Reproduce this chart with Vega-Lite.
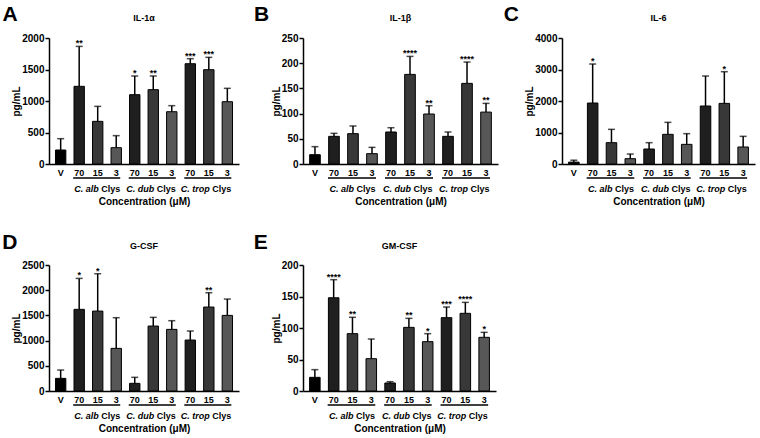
{
  "$schema": "https://vega.github.io/schema/vega-lite/v6.json",
  "padding": {"left": 2, "top": 3, "right": 1, "bottom": 2},
  "datasets": {
    "cyto": [
      {"panel":"A","cat":"V","dose":"V","mean":222,"upper":402,"sig":""},
      {"panel":"A","cat":"alb 70","dose":"70","mean":1233,"upper":1867,"sig":"**"},
      {"panel":"A","cat":"alb 15","dose":"15","mean":677,"upper":915,"sig":""},
      {"panel":"A","cat":"alb 3","dose":"3","mean":259,"upper":450,"sig":""},
      {"panel":"A","cat":"dub 70","dose":"70","mean":1100,"upper":1397,"sig":"*"},
      {"panel":"A","cat":"dub 15","dose":"15","mean":1180,"upper":1397,"sig":"**"},
      {"panel":"A","cat":"dub 3","dose":"3","mean":830,"upper":926,"sig":""},
      {"panel":"A","cat":"trop 70","dose":"70","mean":1592,"upper":1672,"sig":"***"},
      {"panel":"A","cat":"trop 15","dose":"15","mean":1497,"upper":1693,"sig":"***"},
      {"panel":"A","cat":"trop 3","dose":"3","mean":989,"upper":1201,"sig":""},
      {"panel":"B","cat":"V","dose":"V","mean":18.5,"upper":34.4,"sig":""},
      {"panel":"B","cat":"alb 70","dose":"70","mean":54.9,"upper":60.8,"sig":""},
      {"panel":"B","cat":"alb 15","dose":"15","mean":60.2,"upper":75.4,"sig":""},
      {"panel":"B","cat":"alb 3","dose":"3","mean":20.5,"upper":33,"sig":""},
      {"panel":"B","cat":"dub 70","dose":"70","mean":63.5,"upper":72,"sig":""},
      {"panel":"B","cat":"dub 15","dose":"15","mean":177.8,"upper":213.5,"sig":"****"},
      {"panel":"B","cat":"dub 3","dose":"3","mean":99.2,"upper":115.7,"sig":"**"},
      {"panel":"B","cat":"trop 70","dose":"70","mean":54.9,"upper":63.5,"sig":""},
      {"panel":"B","cat":"trop 15","dose":"15","mean":160,"upper":202.3,"sig":"****"},
      {"panel":"B","cat":"trop 3","dose":"3","mean":103,"upper":120.3,"sig":"**"},
      {"panel":"C","cat":"V","dose":"V","mean":60,"upper":120,"sig":""},
      {"panel":"C","cat":"alb 70","dose":"70","mean":1936,"upper":3174,"sig":"*"},
      {"panel":"C","cat":"alb 15","dose":"15","mean":677,"upper":1100,"sig":""},
      {"panel":"C","cat":"alb 3","dose":"3","mean":169,"upper":317,"sig":""},
      {"panel":"C","cat":"dub 70","dose":"70","mean":476,"upper":677,"sig":""},
      {"panel":"C","cat":"dub 15","dose":"15","mean":942,"upper":1322,"sig":""},
      {"panel":"C","cat":"dub 3","dose":"3","mean":624,"upper":963,"sig":""},
      {"panel":"C","cat":"trop 70","dose":"70","mean":1841,"upper":2793,"sig":""},
      {"panel":"C","cat":"trop 15","dose":"15","mean":1925,"upper":2930,"sig":"*"},
      {"panel":"C","cat":"trop 3","dose":"3","mean":540,"upper":878,"sig":""},
      {"panel":"D","cat":"V","dose":"V","mean":251,"upper":416,"sig":""},
      {"panel":"D","cat":"alb 70","dose":"70","mean":1620,"upper":2234,"sig":"*"},
      {"panel":"D","cat":"alb 15","dose":"15","mean":1586,"upper":2327,"sig":"*"},
      {"panel":"D","cat":"alb 3","dose":"3","mean":846,"upper":1454,"sig":""},
      {"panel":"D","cat":"dub 70","dose":"70","mean":152,"upper":271,"sig":""},
      {"panel":"D","cat":"dub 15","dose":"15","mean":1289,"upper":1461,"sig":""},
      {"panel":"D","cat":"dub 3","dose":"3","mean":1223,"upper":1395,"sig":""},
      {"panel":"D","cat":"trop 70","dose":"70","mean":1011,"upper":1190,"sig":""},
      {"panel":"D","cat":"trop 15","dose":"15","mean":1666,"upper":1950,"sig":"**"},
      {"panel":"D","cat":"trop 3","dose":"3","mean":1500,"upper":1824,"sig":""},
      {"panel":"E","cat":"V","dose":"V","mean":21.7,"upper":33.9,"sig":""},
      {"panel":"E","cat":"alb 70","dose":"70","mean":148,"upper":176.7,"sig":"****"},
      {"panel":"E","cat":"alb 15","dose":"15","mean":91,"upper":117,"sig":"**"},
      {"panel":"E","cat":"alb 3","dose":"3","mean":51.3,"upper":82.5,"sig":""},
      {"panel":"E","cat":"dub 70","dose":"70","mean":12.7,"upper":14.8,"sig":""},
      {"panel":"E","cat":"dub 15","dose":"15","mean":101,"upper":115.3,"sig":"**"},
      {"panel":"E","cat":"dub 3","dose":"3","mean":78.3,"upper":91,"sig":"*"},
      {"panel":"E","cat":"trop 70","dose":"70","mean":116.4,"upper":133.3,"sig":"***"},
      {"panel":"E","cat":"trop 15","dose":"15","mean":123.3,"upper":140.7,"sig":"****"},
      {"panel":"E","cat":"trop 3","dose":"3","mean":85.2,"upper":93.1,"sig":"*"}
    ],
    "groups": [
      {"start":"alb 70","mid":"alb 15","end":"alb 3","sp":"C. alb"},
      {"start":"dub 70","mid":"dub 15","end":"dub 3","sp":"C. dub"},
      {"start":"trop 70","mid":"trop 15","end":"trop 3","sp":"C. trop"}
    ]
  },
  "data": {"name": "cyto"},
  "bounds": "flush",
  "columns": 3,
  "spacing": {"row": 101, "column": 64},
  "concat": [
    {"width": 190, "height": 126, "title": "IL-1α",
     "layer": [
      {"transform": [{"filter": "datum.panel == 'A'"}],
       "encoding": {"x": {"field": "cat", "type": "nominal", "sort": null, "scale": {"domain": ["V","alb 70","alb 15","alb 3","dub 70","dub 15","dub 3","trop 70","trop 15","trop 3"], "paddingInner": 0.44, "paddingOuter": 0.35}, "axis": {"title": "Concentration (μM)", "labelExpr": "slice(datum.value, indexof(datum.value, ' ') + 1)", "ticks": false, "labelAngle": 0, "labelPadding": 4, "titlePadding": 19, "labelFontSize": 9}}},
       "layer": [
        {"mark": {"type": "bar", "stroke": "black", "strokeWidth": 1}, "encoding": {"y": {"field": "mean", "type": "quantitative", "scale": {"domain": [0, 2000], "nice": false}, "axis": {"values": [0,500,1000,1500,2000], "format": "d", "title": "pg/mL"}}, "color": {"field": "dose", "type": "nominal", "scale": {"domain": ["V","70","15","3"], "range": ["#000000","#1f1f1f","#383838","#575757"]}, "legend": null}}},
        {"mark": {"type": "rule", "strokeWidth": 1.5, "color": "black"}, "encoding": {"y": {"field": "mean", "type": "quantitative", "axis": {"values": [0,500,1000,1500,2000], "format": "d", "title": "pg/mL"}}, "y2": {"field": "upper"}}},
        {"mark": {"type": "tick", "thickness": 1.5, "size": 7, "color": "black"}, "encoding": {"y": {"field": "upper", "type": "quantitative", "axis": {"values": [0,500,1000,1500,2000], "format": "d", "title": "pg/mL"}}}},
        {"mark": {"type": "text", "fontSize": 9, "fontWeight": "bold", "baseline": "alphabetic"}, "encoding": {"y": {"field": "upper", "type": "quantitative", "axis": {"values": [0,500,1000,1500,2000], "format": "d", "title": "pg/mL"}}, "text": {"field": "sig"}}}
       ]},
      {"data": {"name": "groups"},
       "layer": [
        {"mark": {"type": "rule", "strokeWidth": 1.5, "color": "black", "yOffset": 14, "xOffset": -6, "x2Offset": 4}, "encoding": {"x": {"field": "start", "type": "nominal", "scale": {"domain": ["V","alb 70","alb 15","alb 3","dub 70","dub 15","dub 3","trop 70","trop 15","trop 3"]}}, "x2": {"field": "end"}, "y": {"datum": 0, "type": "quantitative", "axis": {"values": [0,500,1000,1500,2000], "format": "d", "title": "pg/mL"}}}},
        {"mark": {"type": "text", "fontSize": 9, "fontWeight": "bold", "fontStyle": "italic", "align": "right", "baseline": "middle", "dx": 1, "dy": 25}, "encoding": {"x": {"field": "mid", "type": "nominal", "scale": {"domain": ["V","alb 70","alb 15","alb 3","dub 70","dub 15","dub 3","trop 70","trop 15","trop 3"]}}, "y": {"datum": 0, "type": "quantitative", "axis": {"values": [0,500,1000,1500,2000], "format": "d", "title": "pg/mL"}}, "text": {"field": "sp"}}},
        {"mark": {"type": "text", "fontSize": 9, "fontWeight": "bold", "align": "left", "baseline": "middle", "dx": 3.5, "dy": 25, "text": "Clys"}, "encoding": {"x": {"field": "mid", "type": "nominal", "scale": {"domain": ["V","alb 70","alb 15","alb 3","dub 70","dub 15","dub 3","trop 70","trop 15","trop 3"]}}, "y": {"datum": 0, "type": "quantitative", "axis": {"values": [0,500,1000,1500,2000], "format": "d", "title": "pg/mL"}}}}
       ]},
      {"data": {"values": [{"t": "A"}]}, "mark": {"type": "text", "fontSize": 21, "fontWeight": "bold", "align": "left", "baseline": "alphabetic", "dx": -58.2, "dy": -17.3}, "encoding": {"x": {"datum": "V", "type": "nominal"}, "y": {"datum": 2000, "type": "quantitative", "axis": {"values": [0,500,1000,1500,2000], "format": "d", "title": "pg/mL"}}, "text": {"field": "t"}}}
     ]},
    {"width": 195, "height": 126, "title": "IL-1β",
     "layer": [
      {"transform": [{"filter": "datum.panel == 'B'"}],
       "encoding": {"x": {"field": "cat", "type": "nominal", "sort": null, "scale": {"domain": ["V","alb 70","alb 15","alb 3","dub 70","dub 15","dub 3","trop 70","trop 15","trop 3"], "paddingInner": 0.44, "paddingOuter": 0.35}, "axis": {"title": "Concentration (μM)", "labelExpr": "slice(datum.value, indexof(datum.value, ' ') + 1)", "ticks": false, "labelAngle": 0, "labelPadding": 4, "titlePadding": 19, "labelFontSize": 9}}},
       "layer": [
        {"mark": {"type": "bar", "stroke": "black", "strokeWidth": 1}, "encoding": {"y": {"field": "mean", "type": "quantitative", "scale": {"domain": [0, 250], "nice": false}, "axis": {"values": [0,50,100,150,200,250], "format": "d", "title": "pg/mL"}}, "color": {"field": "dose", "type": "nominal", "scale": {"domain": ["V","70","15","3"], "range": ["#000000","#1f1f1f","#383838","#575757"]}, "legend": null}}},
        {"mark": {"type": "rule", "strokeWidth": 1.5, "color": "black"}, "encoding": {"y": {"field": "mean", "type": "quantitative", "axis": {"values": [0,50,100,150,200,250], "format": "d", "title": "pg/mL"}}, "y2": {"field": "upper"}}},
        {"mark": {"type": "tick", "thickness": 1.5, "size": 7, "color": "black"}, "encoding": {"y": {"field": "upper", "type": "quantitative", "axis": {"values": [0,50,100,150,200,250], "format": "d", "title": "pg/mL"}}}},
        {"mark": {"type": "text", "fontSize": 9, "fontWeight": "bold", "baseline": "alphabetic"}, "encoding": {"y": {"field": "upper", "type": "quantitative", "axis": {"values": [0,50,100,150,200,250], "format": "d", "title": "pg/mL"}}, "text": {"field": "sig"}}}
       ]},
      {"data": {"name": "groups"},
       "layer": [
        {"mark": {"type": "rule", "strokeWidth": 1.5, "color": "black", "yOffset": 14, "xOffset": -6, "x2Offset": 4}, "encoding": {"x": {"field": "start", "type": "nominal", "scale": {"domain": ["V","alb 70","alb 15","alb 3","dub 70","dub 15","dub 3","trop 70","trop 15","trop 3"]}}, "x2": {"field": "end"}, "y": {"datum": 0, "type": "quantitative", "axis": {"values": [0,50,100,150,200,250], "format": "d", "title": "pg/mL"}}}},
        {"mark": {"type": "text", "fontSize": 9, "fontWeight": "bold", "fontStyle": "italic", "align": "right", "baseline": "middle", "dx": 1, "dy": 25}, "encoding": {"x": {"field": "mid", "type": "nominal", "scale": {"domain": ["V","alb 70","alb 15","alb 3","dub 70","dub 15","dub 3","trop 70","trop 15","trop 3"]}}, "y": {"datum": 0, "type": "quantitative", "axis": {"values": [0,50,100,150,200,250], "format": "d", "title": "pg/mL"}}, "text": {"field": "sp"}}},
        {"mark": {"type": "text", "fontSize": 9, "fontWeight": "bold", "align": "left", "baseline": "middle", "dx": 3.5, "dy": 25, "text": "Clys"}, "encoding": {"x": {"field": "mid", "type": "nominal", "scale": {"domain": ["V","alb 70","alb 15","alb 3","dub 70","dub 15","dub 3","trop 70","trop 15","trop 3"]}}, "y": {"datum": 0, "type": "quantitative", "axis": {"values": [0,50,100,150,200,250], "format": "d", "title": "pg/mL"}}}}
       ]},
      {"data": {"values": [{"t": "B"}]}, "mark": {"type": "text", "fontSize": 21, "fontWeight": "bold", "align": "left", "baseline": "alphabetic", "dx": -61, "dy": -17.3}, "encoding": {"x": {"datum": "V", "type": "nominal"}, "y": {"datum": 250, "type": "quantitative", "axis": {"values": [0,50,100,150,200,250], "format": "d", "title": "pg/mL"}}, "text": {"field": "t"}}}
     ]},
    {"width": 193, "height": 126, "title": "IL-6",
     "layer": [
      {"transform": [{"filter": "datum.panel == 'C'"}],
       "encoding": {"x": {"field": "cat", "type": "nominal", "sort": null, "scale": {"domain": ["V","alb 70","alb 15","alb 3","dub 70","dub 15","dub 3","trop 70","trop 15","trop 3"], "paddingInner": 0.44, "paddingOuter": 0.35}, "axis": {"title": "Concentration (μM)", "labelExpr": "slice(datum.value, indexof(datum.value, ' ') + 1)", "ticks": false, "labelAngle": 0, "labelPadding": 4, "titlePadding": 19, "labelFontSize": 9}}},
       "layer": [
        {"mark": {"type": "bar", "stroke": "black", "strokeWidth": 1}, "encoding": {"y": {"field": "mean", "type": "quantitative", "scale": {"domain": [0, 4000], "nice": false}, "axis": {"values": [0,1000,2000,3000,4000], "format": "d", "title": "pg/mL"}}, "color": {"field": "dose", "type": "nominal", "scale": {"domain": ["V","70","15","3"], "range": ["#000000","#1f1f1f","#383838","#575757"]}, "legend": null}}},
        {"mark": {"type": "rule", "strokeWidth": 1.5, "color": "black"}, "encoding": {"y": {"field": "mean", "type": "quantitative", "axis": {"values": [0,1000,2000,3000,4000], "format": "d", "title": "pg/mL"}}, "y2": {"field": "upper"}}},
        {"mark": {"type": "tick", "thickness": 1.5, "size": 7, "color": "black"}, "encoding": {"y": {"field": "upper", "type": "quantitative", "axis": {"values": [0,1000,2000,3000,4000], "format": "d", "title": "pg/mL"}}}},
        {"mark": {"type": "text", "fontSize": 9, "fontWeight": "bold", "baseline": "alphabetic"}, "encoding": {"y": {"field": "upper", "type": "quantitative", "axis": {"values": [0,1000,2000,3000,4000], "format": "d", "title": "pg/mL"}}, "text": {"field": "sig"}}}
       ]},
      {"data": {"name": "groups"},
       "layer": [
        {"mark": {"type": "rule", "strokeWidth": 1.5, "color": "black", "yOffset": 14, "xOffset": -6, "x2Offset": 4}, "encoding": {"x": {"field": "start", "type": "nominal", "scale": {"domain": ["V","alb 70","alb 15","alb 3","dub 70","dub 15","dub 3","trop 70","trop 15","trop 3"]}}, "x2": {"field": "end"}, "y": {"datum": 0, "type": "quantitative", "axis": {"values": [0,1000,2000,3000,4000], "format": "d", "title": "pg/mL"}}}},
        {"mark": {"type": "text", "fontSize": 9, "fontWeight": "bold", "fontStyle": "italic", "align": "right", "baseline": "middle", "dx": 1, "dy": 25}, "encoding": {"x": {"field": "mid", "type": "nominal", "scale": {"domain": ["V","alb 70","alb 15","alb 3","dub 70","dub 15","dub 3","trop 70","trop 15","trop 3"]}}, "y": {"datum": 0, "type": "quantitative", "axis": {"values": [0,1000,2000,3000,4000], "format": "d", "title": "pg/mL"}}, "text": {"field": "sp"}}},
        {"mark": {"type": "text", "fontSize": 9, "fontWeight": "bold", "align": "left", "baseline": "middle", "dx": 3.5, "dy": 25, "text": "Clys"}, "encoding": {"x": {"field": "mid", "type": "nominal", "scale": {"domain": ["V","alb 70","alb 15","alb 3","dub 70","dub 15","dub 3","trop 70","trop 15","trop 3"]}}, "y": {"datum": 0, "type": "quantitative", "axis": {"values": [0,1000,2000,3000,4000], "format": "d", "title": "pg/mL"}}}}
       ]},
      {"data": {"values": [{"t": "C"}]}, "mark": {"type": "text", "fontSize": 21, "fontWeight": "bold", "align": "left", "baseline": "alphabetic", "dx": -70, "dy": -17.3}, "encoding": {"x": {"datum": "V", "type": "nominal"}, "y": {"datum": 4000, "type": "quantitative", "axis": {"values": [0,1000,2000,3000,4000], "format": "d", "title": "pg/mL"}}, "text": {"field": "t"}}}
     ]},
    {"width": 190, "height": 126, "title": "G-CSF",
     "layer": [
      {"transform": [{"filter": "datum.panel == 'D'"}],
       "encoding": {"x": {"field": "cat", "type": "nominal", "sort": null, "scale": {"domain": ["V","alb 70","alb 15","alb 3","dub 70","dub 15","dub 3","trop 70","trop 15","trop 3"], "paddingInner": 0.44, "paddingOuter": 0.35}, "axis": {"title": "Concentration (μM)", "labelExpr": "slice(datum.value, indexof(datum.value, ' ') + 1)", "ticks": false, "labelAngle": 0, "labelPadding": 4, "titlePadding": 19, "labelFontSize": 9}}},
       "layer": [
        {"mark": {"type": "bar", "stroke": "black", "strokeWidth": 1}, "encoding": {"y": {"field": "mean", "type": "quantitative", "scale": {"domain": [0, 2500], "nice": false}, "axis": {"values": [0,500,1000,1500,2000,2500], "format": "d", "title": "pg/mL"}}, "color": {"field": "dose", "type": "nominal", "scale": {"domain": ["V","70","15","3"], "range": ["#000000","#1f1f1f","#383838","#575757"]}, "legend": null}}},
        {"mark": {"type": "rule", "strokeWidth": 1.5, "color": "black"}, "encoding": {"y": {"field": "mean", "type": "quantitative", "axis": {"values": [0,500,1000,1500,2000,2500], "format": "d", "title": "pg/mL"}}, "y2": {"field": "upper"}}},
        {"mark": {"type": "tick", "thickness": 1.5, "size": 7, "color": "black"}, "encoding": {"y": {"field": "upper", "type": "quantitative", "axis": {"values": [0,500,1000,1500,2000,2500], "format": "d", "title": "pg/mL"}}}},
        {"mark": {"type": "text", "fontSize": 9, "fontWeight": "bold", "baseline": "alphabetic"}, "encoding": {"y": {"field": "upper", "type": "quantitative", "axis": {"values": [0,500,1000,1500,2000,2500], "format": "d", "title": "pg/mL"}}, "text": {"field": "sig"}}}
       ]},
      {"data": {"name": "groups"},
       "layer": [
        {"mark": {"type": "rule", "strokeWidth": 1.5, "color": "black", "yOffset": 14, "xOffset": -6, "x2Offset": 4}, "encoding": {"x": {"field": "start", "type": "nominal", "scale": {"domain": ["V","alb 70","alb 15","alb 3","dub 70","dub 15","dub 3","trop 70","trop 15","trop 3"]}}, "x2": {"field": "end"}, "y": {"datum": 0, "type": "quantitative", "axis": {"values": [0,500,1000,1500,2000,2500], "format": "d", "title": "pg/mL"}}}},
        {"mark": {"type": "text", "fontSize": 9, "fontWeight": "bold", "fontStyle": "italic", "align": "right", "baseline": "middle", "dx": 1, "dy": 25}, "encoding": {"x": {"field": "mid", "type": "nominal", "scale": {"domain": ["V","alb 70","alb 15","alb 3","dub 70","dub 15","dub 3","trop 70","trop 15","trop 3"]}}, "y": {"datum": 0, "type": "quantitative", "axis": {"values": [0,500,1000,1500,2000,2500], "format": "d", "title": "pg/mL"}}, "text": {"field": "sp"}}},
        {"mark": {"type": "text", "fontSize": 9, "fontWeight": "bold", "align": "left", "baseline": "middle", "dx": 3.5, "dy": 25, "text": "Clys"}, "encoding": {"x": {"field": "mid", "type": "nominal", "scale": {"domain": ["V","alb 70","alb 15","alb 3","dub 70","dub 15","dub 3","trop 70","trop 15","trop 3"]}}, "y": {"datum": 0, "type": "quantitative", "axis": {"values": [0,500,1000,1500,2000,2500], "format": "d", "title": "pg/mL"}}}}
       ]},
      {"data": {"values": [{"t": "D"}]}, "mark": {"type": "text", "fontSize": 21, "fontWeight": "bold", "align": "left", "baseline": "alphabetic", "dx": -58.5, "dy": -16}, "encoding": {"x": {"datum": "V", "type": "nominal"}, "y": {"datum": 2500, "type": "quantitative", "axis": {"values": [0,500,1000,1500,2000,2500], "format": "d", "title": "pg/mL"}}, "text": {"field": "t"}}}
     ]},
    {"width": 193, "height": 126, "title": "GM-CSF",
     "layer": [
      {"transform": [{"filter": "datum.panel == 'E'"}],
       "encoding": {"x": {"field": "cat", "type": "nominal", "sort": null, "scale": {"domain": ["V","alb 70","alb 15","alb 3","dub 70","dub 15","dub 3","trop 70","trop 15","trop 3"], "paddingInner": 0.44, "paddingOuter": 0.35}, "axis": {"title": "Concentration (μM)", "labelExpr": "slice(datum.value, indexof(datum.value, ' ') + 1)", "ticks": false, "labelAngle": 0, "labelPadding": 4, "titlePadding": 19, "labelFontSize": 9}}},
       "layer": [
        {"mark": {"type": "bar", "stroke": "black", "strokeWidth": 1}, "encoding": {"y": {"field": "mean", "type": "quantitative", "scale": {"domain": [0, 200], "nice": false}, "axis": {"values": [0,50,100,150,200], "format": "d", "title": "pg/mL"}}, "color": {"field": "dose", "type": "nominal", "scale": {"domain": ["V","70","15","3"], "range": ["#000000","#1f1f1f","#383838","#575757"]}, "legend": null}}},
        {"mark": {"type": "rule", "strokeWidth": 1.5, "color": "black"}, "encoding": {"y": {"field": "mean", "type": "quantitative", "axis": {"values": [0,50,100,150,200], "format": "d", "title": "pg/mL"}}, "y2": {"field": "upper"}}},
        {"mark": {"type": "tick", "thickness": 1.5, "size": 7, "color": "black"}, "encoding": {"y": {"field": "upper", "type": "quantitative", "axis": {"values": [0,50,100,150,200], "format": "d", "title": "pg/mL"}}}},
        {"mark": {"type": "text", "fontSize": 9, "fontWeight": "bold", "baseline": "alphabetic"}, "encoding": {"y": {"field": "upper", "type": "quantitative", "axis": {"values": [0,50,100,150,200], "format": "d", "title": "pg/mL"}}, "text": {"field": "sig"}}}
       ]},
      {"data": {"name": "groups"},
       "layer": [
        {"mark": {"type": "rule", "strokeWidth": 1.5, "color": "black", "yOffset": 14, "xOffset": -6, "x2Offset": 4}, "encoding": {"x": {"field": "start", "type": "nominal", "scale": {"domain": ["V","alb 70","alb 15","alb 3","dub 70","dub 15","dub 3","trop 70","trop 15","trop 3"]}}, "x2": {"field": "end"}, "y": {"datum": 0, "type": "quantitative", "axis": {"values": [0,50,100,150,200], "format": "d", "title": "pg/mL"}}}},
        {"mark": {"type": "text", "fontSize": 9, "fontWeight": "bold", "fontStyle": "italic", "align": "right", "baseline": "middle", "dx": 1, "dy": 25}, "encoding": {"x": {"field": "mid", "type": "nominal", "scale": {"domain": ["V","alb 70","alb 15","alb 3","dub 70","dub 15","dub 3","trop 70","trop 15","trop 3"]}}, "y": {"datum": 0, "type": "quantitative", "axis": {"values": [0,50,100,150,200], "format": "d", "title": "pg/mL"}}, "text": {"field": "sp"}}},
        {"mark": {"type": "text", "fontSize": 9, "fontWeight": "bold", "align": "left", "baseline": "middle", "dx": 3.5, "dy": 25, "text": "Clys"}, "encoding": {"x": {"field": "mid", "type": "nominal", "scale": {"domain": ["V","alb 70","alb 15","alb 3","dub 70","dub 15","dub 3","trop 70","trop 15","trop 3"]}}, "y": {"datum": 0, "type": "quantitative", "axis": {"values": [0,50,100,150,200], "format": "d", "title": "pg/mL"}}}}
       ]},
      {"data": {"values": [{"t": "E"}]}, "mark": {"type": "text", "fontSize": 21, "fontWeight": "bold", "align": "left", "baseline": "alphabetic", "dx": -61, "dy": -16}, "encoding": {"x": {"datum": "V", "type": "nominal"}, "y": {"datum": 200, "type": "quantitative", "axis": {"values": [0,50,100,150,200], "format": "d", "title": "pg/mL"}}, "text": {"field": "t"}}}
     ]}
  ],
  "config": {
    "font": "Liberation Sans",
    "view": {"stroke": null},
    "axis": {"labelFontWeight": "bold", "labelFontSize": 10, "labelColor": "black", "titleFontWeight": "bold", "titleFontSize": 10, "titleColor": "black", "domainColor": "black", "domainWidth": 1.5, "tickColor": "black", "tickWidth": 1.5, "tickSize": 4, "grid": false},
    "axisY": {"labelPadding": 1, "titlePadding": 0, "labelOverlap": false},
    "title": {"fontSize": 9, "fontWeight": "bold", "color": "black", "offset": -19}
  }
}
